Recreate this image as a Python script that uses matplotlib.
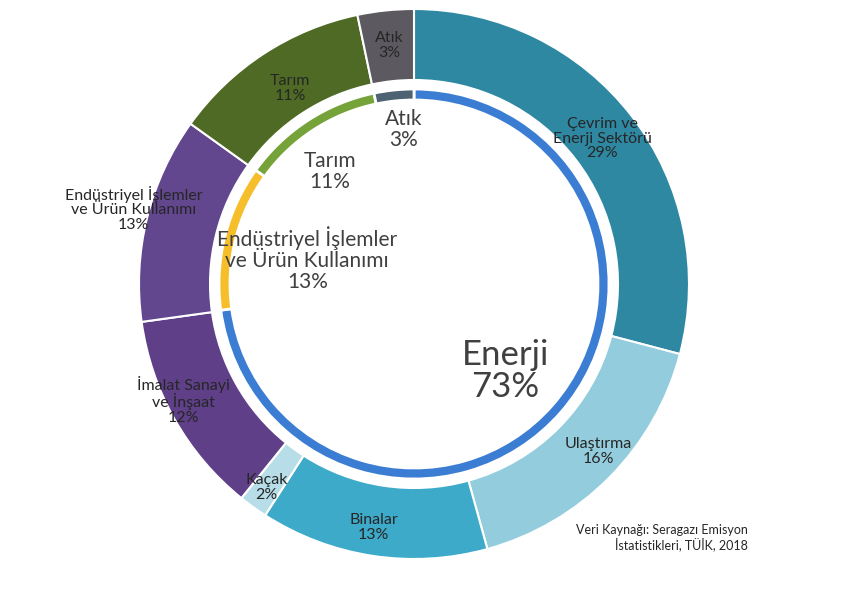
import numpy as np
import matplotlib
matplotlib.use("Agg")
import matplotlib.pyplot as plt

# Outer ring (sub-sectors), clockwise from 12 o'clock
outer_labels = ["Çevrim ve\nEnerji Sektörü", "Ulaştırma", "Binalar", "Kaçak",
                "İmalat Sanayi\nve İnşaat", "Endüstriyel İşlemler\nve Ürün Kullanımı",
                "Tarım", "Atık"]
outer_pct_text = ["29%", "16%", "13%", "2%", "12%", "13%", "11%", "3%"]
outer_values = [29.1, 16.6, 13.4, 1.7, 12.0, 12.1, 11.8, 3.3]
outer_colors = ["#2E88A2", "#93CDDD", "#3EAACA", "#B7DEE8",
                "#5E3F88", "#62468E", "#4E6A24", "#5C5961"]

# Inner ring (main sectors)
inner_labels = ["Enerji", "Endüstriyel İşlemler\nve Ürün Kullanımı", "Tarım", "Atık"]
inner_pct_text = ["73%", "13%", "11%", "3%"]
inner_values = [73.0, 12.1, 11.8, 3.3]
inner_colors = ["#3B7DD3", "#F6BE2B", "#76A23A", "#4E6371"]

source_text = "Veri Kaynağı: Seragazı Emisyon\nİstatistikleri, TÜİK, 2018"

plt.rcParams['font.family'] = ['Lato', 'DejaVu Sans']

W, H = 841, 599
fig = plt.figure(figsize=(W / 100, H / 100), dpi=100)
ax = fig.add_axes([0, 0, 1, 1])

cx, cy = 414, H - 284
R_out, w_out = 275, 71
R_in, w_in = 195, 11

ax.pie(outer_values, colors=outer_colors, radius=R_out, center=(cx, cy),
       startangle=90, counterclock=False,
       wedgeprops=dict(width=w_out, edgecolor='white', linewidth=1.5))
ax.pie(inner_values, colors=inner_colors, radius=R_in, center=(cx, cy),
       startangle=90, counterclock=False,
       wedgeprops=dict(width=w_in, edgecolor='white', linewidth=2))

ax.set_xlim(0, W)
ax.set_ylim(0, H)
ax.set_aspect('equal')
ax.axis('off')

def mid_angles(vals):
    v = np.asarray(vals, float)
    c = np.cumsum(v) / v.sum()
    mids = (c - v / v.sum() / 2) * 2 * np.pi
    return mids

# outer labels: radial distance and small offsets (pixels)
out_r = [238, 238, 236, 226, 236, 255, 236, 238]
out_off = [(0, 0), (15, 0), (-5, 10), (-15, 20), (-25, 0), (-33, -14), (5, 2), (0, -2)]
for a, lab, p, r, (dx, dy) in zip(mid_angles(outer_values), outer_labels, outer_pct_text, out_r, out_off):
    x = cx + r * np.sin(a) + dx
    y = cy + r * np.cos(a) - dy
    ax.text(x, y, lab + "\n" + p, ha='center', va='center', fontsize=11.5,
            color='#262626', linespacing=1.05)

in_r = [135, 110, 150, 160]
in_off = [(-10, -2), (0, 2), (-2, 13), (6, 5)]
in_fs = [25, 15, 15, 15]
for a, lab, p, r, (dx, dy), fs in zip(mid_angles(inner_values), inner_labels, inner_pct_text, in_r, in_off, in_fs):
    x = cx + r * np.sin(a) + dx
    y = cy + r * np.cos(a) - dy
    ax.text(x, y, lab + "\n" + p, ha='center', va='center', fontsize=fs,
            color='#404040', linespacing=1.0 if fs > 20 else 1.05)

ax.text(748, H - 538, source_text, ha='right', va='center', fontsize=9,
        color='#262626', linespacing=1.1)

fig.savefig("out.png", dpi=100, facecolor='white')
